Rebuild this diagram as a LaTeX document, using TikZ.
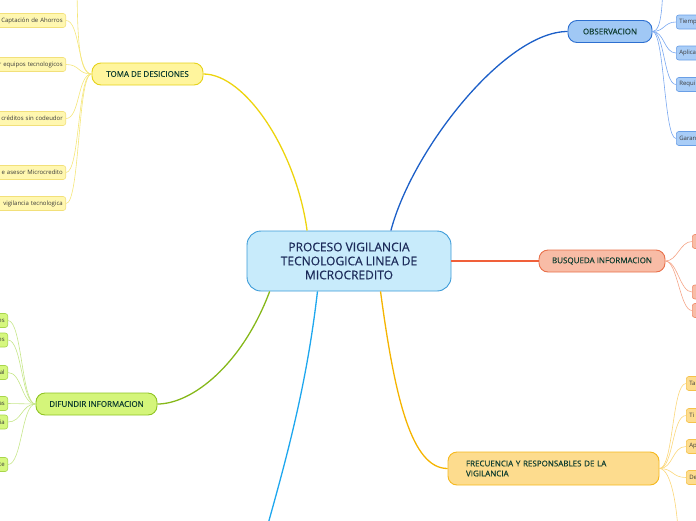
\documentclass[tikz,border=0pt]{standalone}
\usepackage{fontspec}
\setmainfont{Open Sans}
\newfontface\semib[FakeBold=0.5]{Open Sans}
\usetikzlibrary{calc}
\definecolor{cfill}{HTML}{C8EBFB}\definecolor{cdraw}{HTML}{3B9BD8}\definecolor{ctext}{HTML}{1C2B5A}
\definecolor{ttext}{HTML}{0F3D30}\definecolor{ltext}{HTML}{3A3A3A}
\definecolor{ybr}{HTML}{EDD40E}\definecolor{yfill}{HTML}{FFF59D}\definecolor{ydraw}{HTML}{E6D21A}\definecolor{ytw}{HTML}{F5E67A}\definecolor{ylfill}{HTML}{FFF7B0}\definecolor{yldraw}{HTML}{F2E07A}
\definecolor{bbr}{HTML}{1C5FC8}\definecolor{bfill}{HTML}{A0C8F5}\definecolor{bdraw}{HTML}{2D6FD0}\definecolor{btw}{HTML}{7AA8F0}\definecolor{blfill}{HTML}{A9CDF7}\definecolor{bldraw}{HTML}{6A9FE6}
\definecolor{sbr}{HTML}{F0603A}\definecolor{sfill}{HTML}{F8BCA6}\definecolor{sdraw}{HTML}{E8704A}\definecolor{stw}{HTML}{F5A588}\definecolor{sldraw}{HTML}{F08C6C}
\definecolor{obr}{HTML}{F5B400}\definecolor{ofill}{HTML}{FDDC8E}\definecolor{odraw}{HTML}{F5B81E}\definecolor{otw}{HTML}{FBD77A}\definecolor{oldraw}{HTML}{F5C24A}
\definecolor{gbr}{HTML}{86B81A}\definecolor{gfill}{HTML}{D4F57A}\definecolor{gdraw}{HTML}{8FC423}\definecolor{gtw}{HTML}{C6E68A}\definecolor{glfill}{HTML}{D6F77E}\definecolor{gldraw}{HTML}{A8D64C}
\definecolor{lbbr}{HTML}{1EA7EE}
\begin{document}
\begin{tikzpicture}[x=1pt,y=-1pt,
  central/.style={draw=cdraw,fill=cfill,text=ctext,line width=0.9pt,rounded corners=14pt,minimum width=204pt,minimum height=60pt,align=center,font=\semib\fontsize{12}{14}\selectfont},
  topic/.style={draw,line width=0.9pt,rounded corners=9pt,minimum height=22pt,text=ttext,font=\semib\fontsize{8}{10}\selectfont,inner xsep=4pt},
  leaf/.style={draw,line width=0.6pt,rounded corners=2.5pt,minimum height=14pt,inner ysep=1pt,inner xsep=3pt,text=ltext,font=\fontsize{6}{7}\selectfont},
  lleaf/.style={leaf,anchor=east,text width=90pt,align=right},
  rleaf/.style={leaf,anchor=west,text width=40pt,align=left},
  branch/.style={line width=1.3pt},
  twig/.style={line width=0.6pt}]
\useasboundingbox (0,0) rectangle (696,520);
\clip (0,0) rectangle (696,520);
% central
\node[central] (c) at (349,261) {PROCESO VIGILANCIA\\TECNOLOGICA LINEA DE\\MICROCREDITO};
% topics
\node[topic,fill=yfill,draw=ydraw,minimum width=111pt] (toma) at (147.5,74) {TOMA DE DESICIONES};
\node[topic,fill=bfill,draw=bdraw,minimum width=84pt] (obs) at (610,31.5) {OBSERVACION};
\node[topic,fill=sfill,draw=sdraw,minimum width=126pt] (bus) at (602,261) {BUSQUEDA INFORMACION};
\node[topic,fill=gfill,draw=gdraw,minimum width=121pt] (dif) at (96.5,404) {DIFUNDIR INFORMACION};
\node[topic,fill=ofill,draw=odraw,minimum height=33pt,text width=175pt,inner xsep=18pt,align=left] (fre) at (553.5,468.5) {FRECUENCIA Y RESPONSABLES DE LA\\VIGILANCIA};
% off-canvas ends
\coordinate (yo) at (77,-40);
\coordinate (bo) at (663,-40);
\coordinate (oo) at (679,560);
\coordinate (lbo) at (258,560);
% main branches
\draw[branch,ybr] (c.144) .. controls (296,150) and (245,74) .. (toma.east);
\draw[branch,bbr] (c.36) .. controls (412,150) and (505,31.5) .. (obs.west);
\draw[branch,sbr] (c.east) -- (bus.west);
\draw[branch,obr] (c.-44) .. controls (395,400) and (412,468.5) .. (fre.west);
\draw[branch,gbr] (c.201) .. controls (242,365) and (192,404) .. (dif.east);
\draw[branch,lbbr] (c.224) .. controls (305,400) and (280,480) .. (lbo);
% yellow leaves
\node[lleaf,fill=ylfill,draw=yldraw] (y1) at (66,20.5) {Captación de Ahorros};
\node[lleaf,fill=ylfill,draw=yldraw] (y2) at (66,64.5) {r equipos tecnologicos};
\node[lleaf,fill=ylfill,draw=yldraw] (y3) at (66,118.5) {créditos sin codeudor};
\node[lleaf,fill=ylfill,draw=yldraw] (y4) at (66,172.5) {e asesor Microcredito};
\node[lleaf,fill=ylfill,draw=yldraw] (y5) at (66,203.5) {vigilancia tecnologica};
\foreach \n in {y1,y2,y3,y4,y5}
  \draw[twig,ytw] (toma.west) .. controls +(-14,0) and +(14,0) .. (\n.east);
\draw[twig,ytw] (toma.west) .. controls +(-14,0) and +(0,70) .. (yo);
% blue leaves
\node[rleaf,fill=blfill,draw=bldraw] (b1) at (676,22) {Tiemp};
\node[rleaf,fill=blfill,draw=bldraw] (b2) at (676,53) {Aplica};
\node[rleaf,fill=blfill,draw=bldraw] (b3) at (676,84.5) {Requi};
\node[rleaf,fill=blfill,draw=bldraw] (b4) at (676,138.5) {Garan};
\foreach \n in {b1,b2,b3,b4}
  \draw[twig,btw] (obs.east) .. controls +(12,0) and +(-12,0) .. (\n.west);
\draw[twig,btw] (obs.east) .. controls +(10,0) and +(0,40) .. (bo);
% salmon leaves
\node[rleaf,fill=sfill,draw=sldraw] (s1) at (692,241.5) {};
\node[rleaf,fill=sfill,draw=sldraw] (s2) at (692,292) {};
\node[rleaf,fill=sfill,draw=sldraw] (s3) at (692,310.5) {};
\foreach \n in {s1,s2,s3}
  \draw[twig,stw] (bus.east) .. controls +(12,0) and +(-12,0) .. (\n.west);
% orange leaves
\node[rleaf,fill=ofill,draw=oldraw] (o1) at (686,383.5) {Ta};
\node[rleaf,fill=ofill,draw=oldraw] (o2) at (686,415.5) {Ti};
\node[rleaf,fill=ofill,draw=oldraw] (o3) at (686,446.5) {Ap};
\node[rleaf,fill=ofill,draw=oldraw] (o4) at (686,477.5) {De};
\foreach \n in {o1,o2,o3,o4}
  \draw[twig,otw] (fre.east) .. controls +(14,0) and +(-14,0) .. (\n.west);
\draw[twig,otw] (fre.east) .. controls +(12,0) and +(0,-50) .. (oo);
% green leaves
\node[lleaf,fill=glfill,draw=gldraw] (g1) at (8,320.5) {es};
\node[lleaf,fill=glfill,draw=gldraw] (g2) at (8,340) {es};
\node[lleaf,fill=glfill,draw=gldraw] (g3) at (8,372.5) {al};
\node[lleaf,fill=glfill,draw=gldraw] (g4) at (8,403.5) {as};
\node[lleaf,fill=glfill,draw=gldraw] (g5) at (8,422) {ia};
\node[lleaf,fill=glfill,draw=gldraw] (g6) at (8,464.5) {te};
\foreach \n in {g1,g2,g3,g4,g5,g6}
  \draw[twig,gtw] (dif.west) .. controls +(-14,0) and +(14,0) .. (\n.east);
\end{tikzpicture}
\end{document}
